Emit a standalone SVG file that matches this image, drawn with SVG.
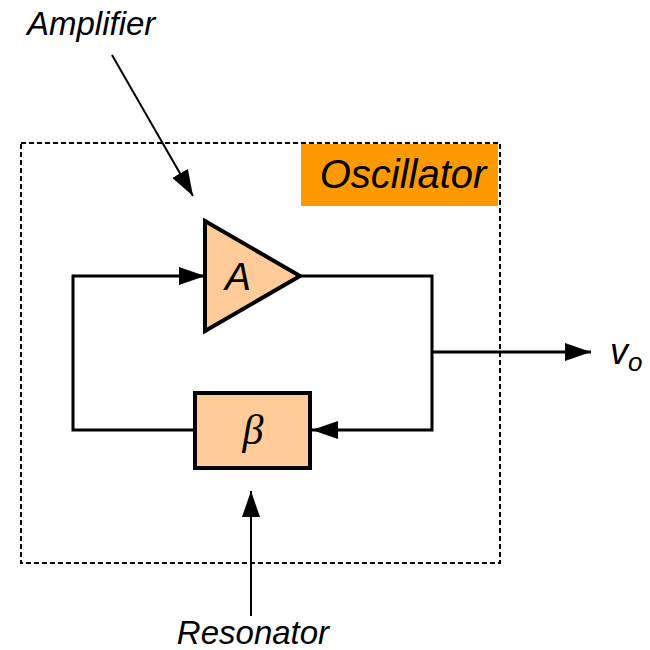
<svg xmlns="http://www.w3.org/2000/svg" width="650" height="650" viewBox="0 0 650 650">
<style>
.lbl{font-family:"Liberation Sans",Arial,sans-serif;font-style:italic;fill:#000}
.wire{stroke:#000;stroke-width:3;fill:none}
.thin{stroke:#000;stroke-width:2;fill:none}
.blk{fill:#FFCC99;stroke:#000;stroke-width:4}
</style>
<defs>
<marker id="ah2" viewBox="0 0 10 10" refX="10" refY="5" markerWidth="26" markerHeight="18" markerUnits="userSpaceOnUse" orient="auto" preserveAspectRatio="none"><path d="M0,0 L10,5 L0,10 z" fill="#000"/></marker>
</defs>
<rect width="650" height="650" fill="#fff"/>
<g id="oscillator">
<rect x="21" y="143" width="479" height="420" fill="none" stroke="#000" stroke-width="2" stroke-dasharray="5,3"/>
<rect x="301" y="144" width="197" height="62" fill="#FF9900"/>
<text class="lbl" x="403" y="188" font-size="40" text-anchor="middle">Oscillator</text>
</g>
<g id="connectors">
<line class="wire" x1="73" y1="276" x2="205" y2="276" marker-end="url(#ah2)"/>
<polyline class="wire" points="195,430 73,430 73,274.5"/>
<polyline class="wire" points="300,276 432,276 432,430 312,430" marker-end="url(#ah2)"/>
<line class="wire" x1="432" y1="352" x2="591" y2="352" marker-end="url(#ah2)"/>
<line class="thin" x1="112" y1="55" x2="193" y2="196" marker-end="url(#ah2)"/>
<line class="thin" x1="251" y1="616" x2="251" y2="491" marker-end="url(#ah2)"/>
</g>
<g id="amplifier">
<polygon class="blk" points="205,221 300,276 205,331"/>
<text class="lbl" x="238" y="290" font-size="39" text-anchor="middle">A</text>
</g>
<g id="resonator">
<rect class="blk" x="195" y="393" width="115" height="75"/>
<text x="253" y="444" font-size="42" text-anchor="middle" font-family="'Liberation Serif',serif" font-style="italic">β</text>
</g>
<g id="labels">
<text class="lbl" x="27" y="35" font-size="33">Amplifier</text>
<text class="lbl" x="253" y="644" font-size="33" text-anchor="middle">Resonator</text>
<text class="lbl" x="610" y="364" font-size="36">v<tspan font-size="26" dy="7">o</tspan></text>
</g>
</svg>
